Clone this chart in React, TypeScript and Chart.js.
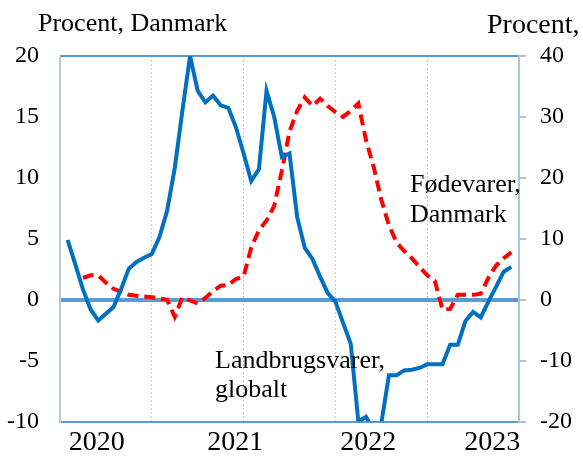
import React, { useEffect, useRef } from 'react';
import { Chart, registerables } from 'chart.js';

Chart.register(...registerables);

// Monthly observations, index 1 = first month shown on the axis (axis spans 0..60)
const landbrugsvarerGlobalt: (number | null)[] = [
  9.8, 5.8, 1.7, -1.6, -3.4, -2.3, -1.2, 1.8, 5.1, 6.2,
  6.9, 7.5, 10.3, 14.6, 21.6, 31.0, 40.0, 34.3, 32.4, 33.5,
  31.9, 31.5, 28.3, 24.0, 19.5, 21.4, 34.3, 30.0, 23.4, 24.0,
  13.6, 8.5, 6.7, 3.8, 1.1, -0.3, -3.8, -7.2, -20.0, -19.2,
  -21.5, -20.3, -12.4, -12.4, -11.6, -11.5, -11.2, -10.6, -10.6, -10.6,
  -7.4, -7.4, -3.5, -2.0, -2.9, -0.3, 2.1, 4.6, 5.4,
];

const foedevarerDanmark: (number | null)[] = [
  null, null, 1.8, 2.0, 2.0, 1.4, 0.9, 0.65, 0.4, 0.33,
  0.26, 0.2, 0.1, 0.0, -1.4, 0.2, -0.05, -0.3, 0.15, 0.7,
  1.15, 1.2, 1.7, 1.9, 4.3, 5.7, 6.5, 7.7, 10.6, 13.8,
  15.5, 16.6, 15.9, 16.5, 15.9, 15.4, 15.0, 15.5, 16.1, 13.1,
  10.9, 8.2, 6.1, 4.7, 4.0, 3.4, 2.7, 2.0, 1.55, -0.8,
  -0.75, 0.4, 0.4, 0.4, 0.5, 1.8, 2.8, 3.4, 3.9,
];

const yearLabels = ['2020', '2021', '2022', '2023'];
const yearLabelAt = [4.8, 22.9, 40.3, 56.5];
const gridMonths = [0, 12, 24, 36, 48, 60];
const leftTicks = [-10, -5, 0, 5, 10, 15, 20];
const rightTicks = [-20, -10, 0, 10, 20, 30, 40];

const SERIF = '"Liberation Serif", "Times New Roman", serif';
const BLUE = '#0070C0';
const AXISBLUE = '#5B9BD5';

export default function App() {
  const ref = useRef<HTMLCanvasElement>(null);

  useEffect(() => {
    if (!ref.current) return;
    const textPlugin = {
      id: 'texts',
      afterDraw(chart: any) {
        const ctx = chart.ctx;
        ctx.save();
        ctx.fillStyle = '#000';
        ctx.textAlign = 'left';
        ctx.textBaseline = 'alphabetic';
        ctx.font = `26px ${SERIF}`;
        ctx.fillText('Procent, Danmark', 38, 31);
        ctx.fillText('Fødevarer,', 410, 192);
        ctx.fillText('Danmark', 410, 222);
        ctx.fillText('Landbrugsvarer,', 215, 368);
        ctx.fillText('globalt', 215, 397);
        ctx.font = `28px ${SERIF}`;
        ctx.fillText('Procent, globalt', 487, 33);
        ctx.restore();
      },
    };

    const chart = new Chart(ref.current, {
      type: 'line',
      data: {
        datasets: [
          {
            label: 'Landbrugsvarer, globalt',
            data: landbrugsvarerGlobalt.map((v, i) => ({ x: i + 1, y: v })),
            borderColor: BLUE,
            borderWidth: 4,
            pointRadius: 0,
            tension: 0,
            yAxisID: 'y2',
            xAxisID: 'x',
            clip: 0,
          } as any,
          {
            label: 'Fødevarer, Danmark',
            data: foedevarerDanmark.map((v, i) => ({ x: i + 1, y: v })),
            borderColor: '#FF0000',
            borderWidth: 4,
            borderDash: [11, 6],
            pointRadius: 0,
            tension: 0,
            yAxisID: 'y',
            xAxisID: 'x',
            clip: 0,
          } as any,
        ],
      },
      options: {
        animation: false,
        responsive: false,
        devicePixelRatio: 1,
        layout: { padding: { top: 56, left: 0, right: 0, bottom: 0 } },
        plugins: { legend: { display: false }, tooltip: { enabled: false } },
        scales: {
          xg: {
            type: 'linear',
            position: 'bottom',
            min: 0,
            max: 60,
            afterBuildTicks: (s: any) => {
              s.ticks = gridMonths.map((v) => ({ value: v }));
            },
            afterFit: (s: any) => {
              s.height = 0;
            },
            ticks: { display: false },
            grid: {
              color: (c: any) => (c.tick && (c.tick.value === 0 || c.tick.value === 60) ? 'rgba(0,0,0,0)' : '#C8C8C8'),
              lineWidth: 1,
              drawTicks: false,
              tickBorderDash: [2, 2],
            },
            border: { display: false, dash: [2, 2] },
          } as any,
          x: {
            type: 'linear',
            position: 'bottom',
            min: 0,
            max: 60,
            afterBuildTicks: (s: any) => {
              s.ticks = yearLabelAt.map((v) => ({ value: v }));
            },
            afterFit: (s: any) => {
              s.height = 34;
            },
            ticks: {
              callback: (_v: any, i: number) => yearLabels[i],
              font: { family: SERIF, size: 28 },
              color: '#000',
              padding: 4,
              maxRotation: 0,
              autoSkip: false,
            },
            grid: { display: false, drawTicks: false },
            border: { display: false },
          } as any,
          y: {
            type: 'linear',
            position: 'left',
            min: -10,
            max: 20,
            afterBuildTicks: (s: any) => {
              s.ticks = leftTicks.map((v) => ({ value: v }));
            },
            afterFit: (s: any) => {
              s.width = 60;
            },
            ticks: {
              font: { family: SERIF, size: 24 },
              color: '#000',
              padding: 21,
            },
            grid: {
              color: (c: any) => {
                const v = c.tick && c.tick.value;
                return v === 0 || v === 20 || v === -10 ? AXISBLUE : 'rgba(0,0,0,0)';
              },
              lineWidth: (c: any) => (c.tick && c.tick.value === 0 ? 4 : 2),
              drawTicks: false,
            },
            border: { display: true, color: '#BFC7D1', width: 2 },
          } as any,
          y2: {
            type: 'linear',
            position: 'right',
            min: -20,
            max: 40,
            afterBuildTicks: (s: any) => {
              s.ticks = rightTicks.map((v) => ({ value: v }));
            },
            afterFit: (s: any) => {
              s.width = 64;
            },
            ticks: {
              font: { family: SERIF, size: 24 },
              color: '#000',
              padding: 14,
            },
            grid: {
              drawOnChartArea: false,
              drawTicks: true,
              tickLength: 7,
              color: '#BFBFBF',
              lineWidth: 2,
            },
            border: { display: true, color: '#A9C2DE', width: 2 },
          } as any,
        },
      } as any,
      plugins: [textPlugin],
    });
    return () => chart.destroy();
  }, []);

  return (
    <div style={{ position: 'absolute', left: 0, top: 0, width: 583, height: 457, background: '#fff' }}>
      <canvas ref={ref} width={583} height={457} style={{ display: 'block', width: 583, height: 457 }} />
    </div>
  );
}
